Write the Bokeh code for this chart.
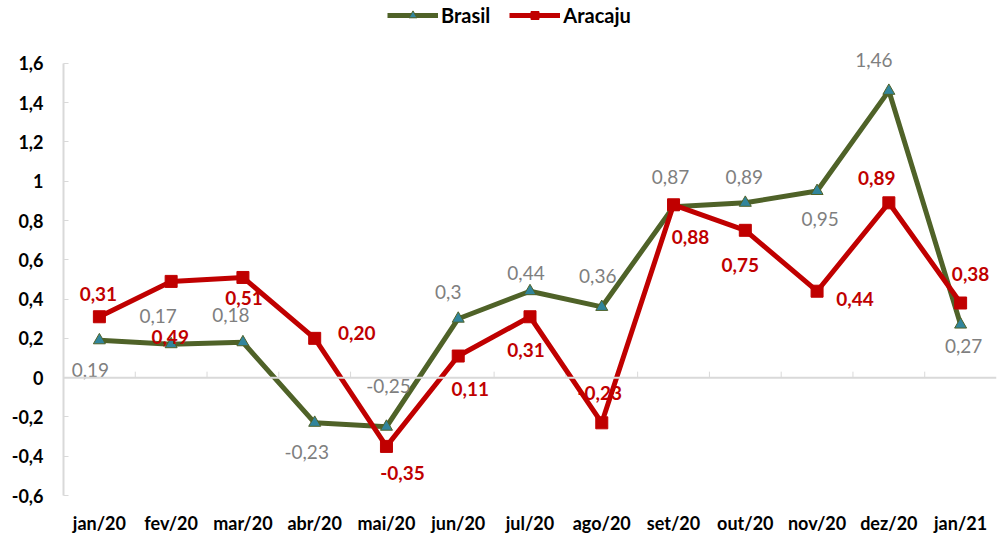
from bokeh.plotting import figure
from bokeh.models import (FactorRange, Range1d, LinearAxis, FixedTicker, Legend, LegendItem,
                          ColumnDataSource, CategoricalAxis, Span)
from bokeh.core.properties import value
from bokeh.embed import file_html
from bokeh.resources import INLINE

# ---------------- data ----------------
months = ["jan/20", "fev/20", "mar/20", "abr/20", "mai/20", "jun/20", "jul/20",
          "ago/20", "set/20", "out/20", "nov/20", "dez/20", "jan/21"]
brasil = [0.19, 0.17, 0.18, -0.23, -0.25, 0.30, 0.44, 0.36, 0.87, 0.89, 0.95, 1.46, 0.27]
aracaju = [0.31, 0.49, 0.51, 0.20, -0.35, 0.11, 0.31, -0.23, 0.88, 0.75, 0.44, 0.89, 0.38]
brasil_labels = ["0,19", "0,17", "0,18", "-0,23", "-0,25", "0,3", "0,44", "0,36",
                 "0,87", "0,89", "0,95", "1,46", "0,27"]
aracaju_labels = ["0,31", "0,49", "0,51", "0,20", "-0,35", "0,11", "0,31", "-0,23",
                  "0,88", "0,75", "0,44", "0,89", "0,38"]
y_ticks = [-0.6, -0.4, -0.2, 0.0, 0.2, 0.4, 0.6, 0.8, 1.0, 1.2, 1.4, 1.6]
y_tick_labels = ["-0,6", "-0,4", "-0,2", "0", "0,2", "0,4", "0,6", "0,8", "1", "1,2", "1,4", "1,6"]

# ---------------- styling (label offsets in screen px) ----------------
brasil_dx = [-9, -13, -12, -8, 2, -10, -4, -4, -3, -1, 3, -15, 3]
brasil_dy = [30, -28, -27, 29, -41, -27, -18, -31, -30, -26, 28, -31, 21]
aracaju_dx = [-1, -1, 1, 42, 16, 12, -4, -2, 17, -5, 38, -12, 10]
aracaju_dy = [-23, 56, 21, -5, 27, 33, 33, -30, 32, 35, 8, -25, -29]

GREEN = "#4F6228"
TEAL = "#31859C"
RED = "#C00000"
GRAY = "#7F7F7F"
AXIS = "#D9D9D9"
FONT = "Lato"

AXIS_MIN, AXIS_MAX = -0.6, 1.6
VIEW_TOP = 1.92  # headroom above the axis for the legend

src_b = ColumnDataSource(dict(x=months, y=brasil, t=brasil_labels, dx=brasil_dx, dy=brasil_dy))
src_a = ColumnDataSource(dict(x=months, y=aracaju, t=aracaju_labels, dx=aracaju_dx, dy=aracaju_dy))

p = figure(width=1004, height=536, output_backend="svg", toolbar_location=None,
           x_range=FactorRange(*months), y_range=Range1d(AXIS_MIN, VIEW_TOP),
           x_axis_location=None, y_axis_location=None,
           min_border_left=63, min_border_right=8, min_border_top=0, min_border_bottom=41)
p.outline_line_color = None
p.grid.visible = False
p.background_fill_color = "white"
p.border_fill_color = "white"

# y axis
yax = LinearAxis(ticker=FixedTicker(ticks=y_ticks), bounds=(AXIS_MIN, AXIS_MAX))
yax.major_label_overrides = dict(zip(y_ticks, y_tick_labels))
yax.axis_line_color = AXIS
yax.axis_line_width = 2
yax.major_tick_line_color = AXIS
yax.major_tick_line_width = 1
yax.major_tick_in = 5
yax.major_tick_out = 0
yax.minor_tick_line_color = None
yax.major_label_standoff = 20
yax.major_label_text_font = FONT
yax.major_label_text_font_style = "bold"
yax.major_label_text_font_size = "18px"
yax.major_label_text_color = "black"
p.add_layout(yax, "left")

# category label axis (bottom)
xax = CategoricalAxis()
xax.axis_line_color = None
xax.major_tick_line_color = None
xax.minor_tick_line_color = None
xax.major_label_standoff = 10
xax.major_label_text_font = FONT
xax.major_label_text_font_style = "bold"
xax.major_label_text_font_size = "18px"
xax.major_label_text_color = "black"
p.add_layout(xax, "below")

# zero line with category-boundary ticks
p.add_layout(Span(location=0, dimension="width", line_color=AXIS, line_width=2))
bounds = ColumnDataSource(dict(x=[(m, -0.5) for m in months[1:]], y=[0.0] * (len(months) - 1)))
p.ray("x", "y", source=bounds, length=6, length_units="screen", angle=90, angle_units="deg",
      line_color=AXIS, line_width=1)

# series
lb = p.line("x", "y", source=src_b, line_color=GREEN, line_width=5, line_join="round")
sb = p.scatter("x", "y", source=src_b, marker="triangle", size=12,
               fill_color=TEAL, line_color=GREEN, line_width=1)
la = p.line("x", "y", source=src_a, line_color=RED, line_width=5, line_join="round")
sa = p.scatter("x", "y", source=src_a, marker="square", size=12,
               fill_color=RED, line_color=RED)

# data labels
p.text("x", "y", text="t", source=src_b, x_offset="dx", y_offset="dy",
       text_align="center", text_baseline="middle", text_color=GRAY,
       text_font=value(FONT), text_font_size="19px")
p.text("x", "y", text="t", source=src_a, x_offset="dx", y_offset="dy",
       text_align="center", text_baseline="middle", text_color=RED,
       text_font=value(FONT), text_font_style="bold", text_font_size="19px")

legend = Legend(items=[LegendItem(label="Brasil", renderers=[lb, sb]),
                       LegendItem(label="Aracaju", renderers=[la, sa])],
                orientation="horizontal", location=(324, 468))
legend.label_text_font = FONT
legend.label_text_font_style = "bold"
legend.label_text_font_size = "20px"
legend.label_text_color = "black"
legend.glyph_width = 51
legend.glyph_height = 20
legend.label_standoff = 3
legend.spacing = 19
legend.padding = 0
legend.margin = 0
legend.border_line_color = None
legend.background_fill_alpha = 0
p.add_layout(legend, "center")

open("out.html", "w").write(file_html(p, INLINE))
